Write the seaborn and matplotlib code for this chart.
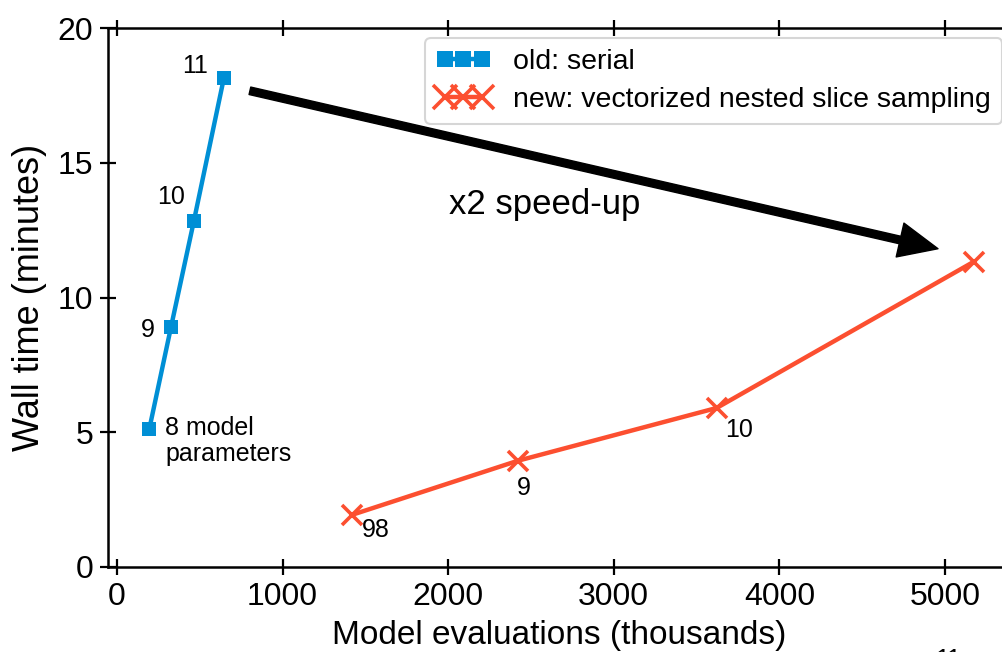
import matplotlib
matplotlib.use("Agg")
import matplotlib.pyplot as plt
import seaborn as sns
import pandas as pd

# ---- data ----
old_evals = [195, 326, 465, 646]
old_time = [5.11, 8.89, 12.85, 18.15]
old_labels = ["8 model\nparameters", "9", "10", "11"]

new_evals = [1417, 2420, 3621, 5175]
new_time = [1.93, 3.94, 5.90, 11.33]
new_labels = ["98", "9", "10", "11"]

xticks = [0, 1000, 2000, 3000, 4000, 5000]
yticks = [0, 5, 10, 15, 20]

BLUE = "#008fd5"
RED = "#fc4f30"

sns.set_theme(style="white")
plt.rcParams["font.family"] = ["Liberation Sans", "DejaVu Sans"]
plt.rcParams["text.color"] = "black"
plt.rcParams["axes.labelcolor"] = "black"
plt.rcParams["xtick.color"] = "black"
plt.rcParams["ytick.color"] = "black"

W, H = 1002, 652
fig = plt.figure(figsize=(W / 100, H / 100), dpi=100)
# axes: left spine at px 108, bottom at 567, top at 28; x 0 at px 117, 165.6 px per 1000
xmin, xmax = -54, 5400
pxu = 0.1656
ax = fig.add_axes([108 / W, (H - 567) / H, (xmax - xmin) * pxu / W, (567 - 28) / H])

df_old = pd.DataFrame({"x": old_evals, "y": old_time})
df_new = pd.DataFrame({"x": new_evals, "y": new_time})

sns.lineplot(data=df_old, x="x", y="y", ax=ax, color=BLUE, lw=3.2, marker="s",
             markersize=10, markeredgewidth=0, markeredgecolor=BLUE,
             label="old: serial", sort=False)
sns.lineplot(data=df_new, x="x", y="y", ax=ax, color=RED, lw=3.2, marker="x",
             markersize=15, markeredgewidth=2.6, markeredgecolor=RED,
             label="new: vectorized nested slice sampling", sort=False)

ax.set_xlim(xmin, xmax)
ax.set_ylim(0, 20)
ax.set_xticks(xticks)
ax.set_yticks(yticks)
ax.tick_params(direction="inout", length=11, width=1.6, colors="black",
               labelsize=23, top=True, right=True, bottom=True, left=True, pad=5)
for s in ax.spines.values():
    s.set_visible(True)
    s.set_color("black")
    s.set_linewidth(1.8)
ax.set_xlabel("Model evaluations (thousands)", fontsize=24, labelpad=6)
ax.set_ylabel("Wall time (minutes)", fontsize=26, labelpad=8)

# point labels, old series
fs = 18
ax.text(550, 18.6, old_labels[3], ha="right", va="center", fontsize=fs)
ax.text(410, 13.72, old_labels[2], ha="right", va="center", fontsize=fs)
ax.text(230, 8.78, old_labels[1], ha="right", va="center", fontsize=fs)
ax.text(290, 5.6, old_labels[0], ha="left", va="top", fontsize=fs, linespacing=1.1)
# point labels, new series
ax.text(1480, 1.37, new_labels[0], ha="left", va="center", fontsize=fs)
ax.text(2458, 2.94, new_labels[1], ha="center", va="center", fontsize=fs)
ax.text(3671, 5.07, new_labels[2], ha="left", va="center", fontsize=fs)
ax.text(4940, -3.0, new_labels[3], ha="left", va="top", fontsize=fs, clip_on=False)

# arrow
ax.annotate("", xy=(4958, 11.81), xytext=(803, 17.67),
            arrowprops=dict(facecolor="black", edgecolor="black", width=5.5,
                            headwidth=25, headlength=28, shrink=0))
ax.text(2585, 13.44, "x2 speed-up", ha="center", va="center", fontsize=25)

leg = ax.legend(loc="upper left", bbox_to_anchor=(425 / W, 1 - 38 / H), bbox_transform=fig.transFigure,
                fontsize=20.5, frameon=True, numpoints=3, handlelength=1.9, markerscale=1.15,
                borderpad=0.4, labelspacing=0.4, handletextpad=0.8, fancybox=True,
                borderaxespad=0)
leg.get_frame().set_edgecolor("#cccccc")
leg.get_frame().set_linewidth(1.5)

fig.savefig("out.png", dpi=100)
